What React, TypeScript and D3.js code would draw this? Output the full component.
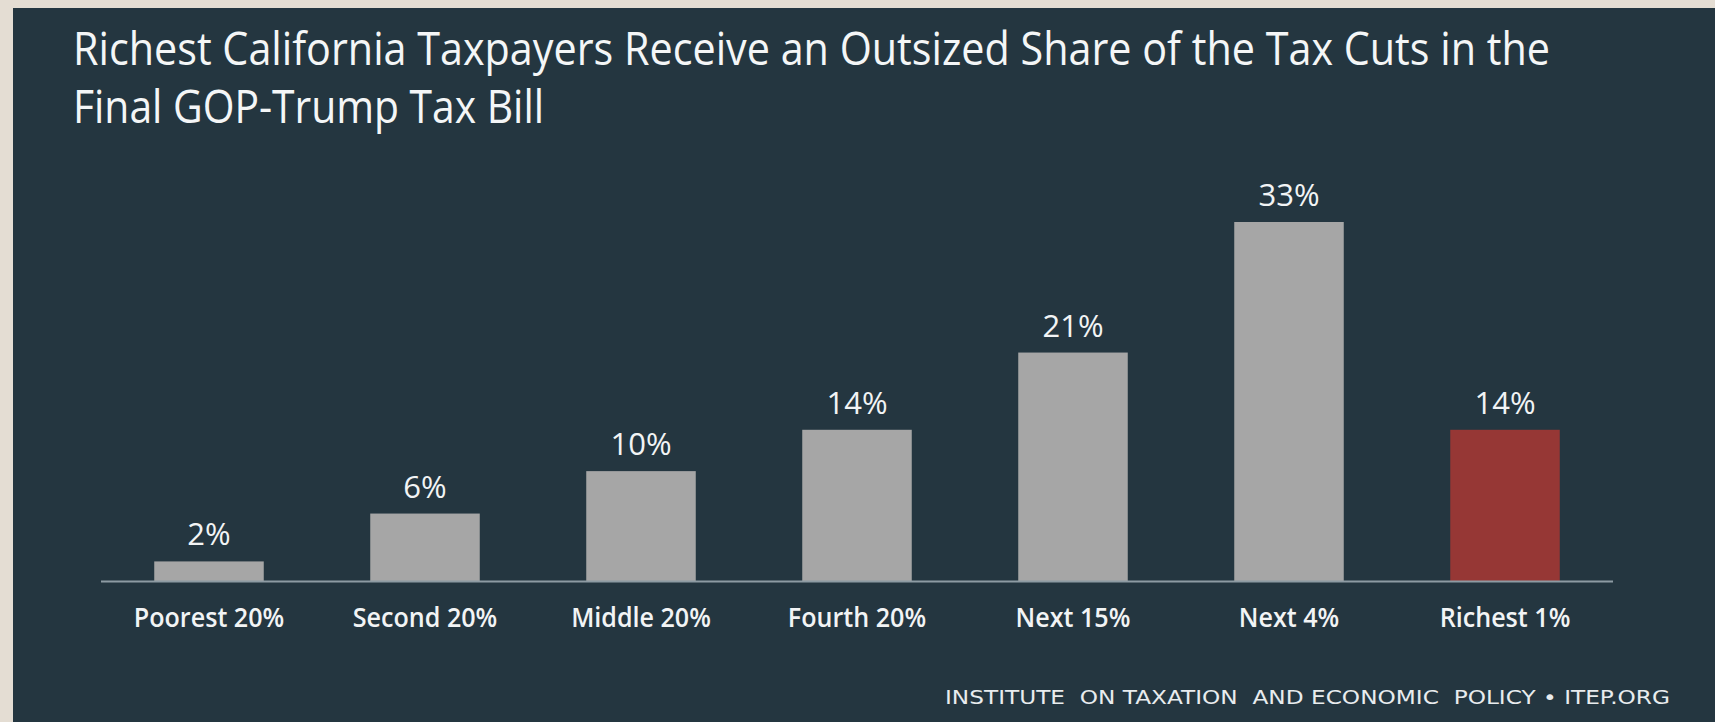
import React from "react";
import * as d3 from "d3";

const title = ["Richest California Taxpayers Receive an Outsized Share of the Tax Cuts in the", "Final GOP-Trump Tax Bill"];
const categories = ["Poorest 20%", "Second 20%", "Middle 20%", "Fourth 20%", "Next 15%", "Next 4%", "Richest 1%"];
const values = [1.8, 6.2, 10.1, 13.9, 21, 33, 13.9];
const valueLabels = ["2%", "6%", "10%", "14%", "21%", "33%", "14%"];
const highlight = ["Richest 1%"];
const footer = "INSTITUTE  ON TAXATION  AND ECONOMIC  POLICY • ITEP.ORG";

export default function App() {
  const W = 1715;
  const H = 722;
  const x = d3.scaleBand<string>().domain(categories).range([101, 1613]).paddingInner(0.493).paddingOuter(0.2465);
  const y = d3.scaleLinear().domain([0, 33]).range([581, 222]);
  const font = "'Open Sans', 'Noto Sans', sans-serif";
  return (
    <svg width={W} height={H} style={{ position: "absolute", left: 0, top: 0 }}>
      <rect x={0} y={0} width={W} height={H} fill="#e4ddd3" />
      <rect x={13} y={8} width={W - 13} height={H - 8} fill="#243640" />
      <text x={73} y={65} fontFamily={font} fontSize={45} fontWeight={500} fill="#f4f6f7" textLength={1477} lengthAdjust="spacingAndGlyphs">{title[0]}</text>
      <text x={73} y={123} fontFamily={font} fontSize={45} fontWeight={500} fill="#f4f6f7" textLength={471} lengthAdjust="spacingAndGlyphs">{title[1]}</text>
      {categories.map((c, i) => {
        const bx = x(c)!;
        const bw = x.bandwidth();
        const top = y(values[i]);
        return (
          <g key={c}>
            <rect x={bx} y={top} width={bw} height={y(0) - top} fill={highlight.includes(c) ? "#963735" : "#a6a6a6"} />
            <text x={bx + bw / 2} y={top - 16} textAnchor="middle" fontFamily={font} fontSize={31} fill="#f2f4f5">{valueLabels[i]}</text>
            <g transform={`translate(${bx + bw / 2},627) scale(0.93,1)`}>
              <text x={0} y={0} textAnchor="middle" fontFamily={font} fontWeight={600} fontSize={27} fill="#f2f4f5">{c}</text>
            </g>
          </g>
        );
      })}
      <line x1={101} x2={1613} y1={y(0) + 0.5} y2={y(0) + 0.5} stroke="#8d9ba3" strokeWidth={2} />
      <text x={945} y={704} fontFamily="'DejaVu Sans', sans-serif" fontSize={19} fill="#e8ecee" textLength={725} lengthAdjust="spacingAndGlyphs" style={{ whiteSpace: "pre" }}>{footer}</text>
    </svg>
  );
}
